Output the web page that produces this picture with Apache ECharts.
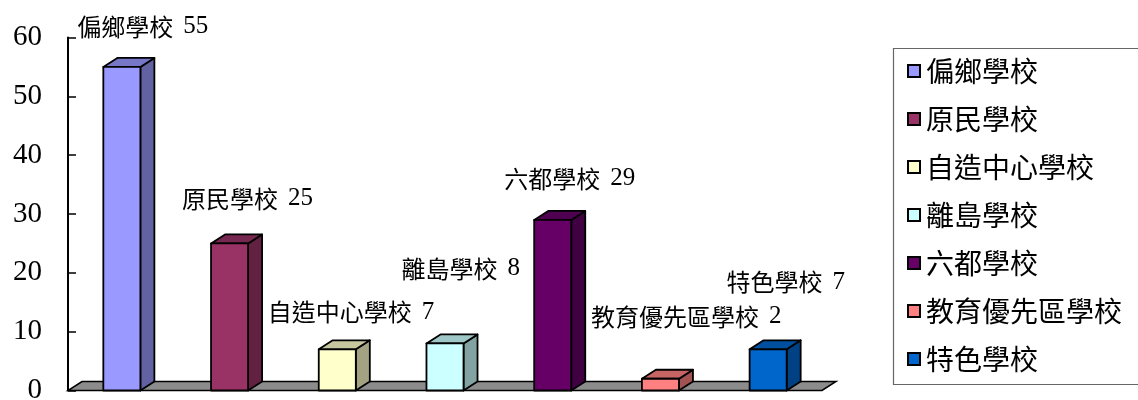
<!DOCTYPE html>
<html>
<head>
<meta charset="utf-8">
<script src="https://cdn.jsdelivr.net/npm/echarts@6/dist/echarts.min.js"></script>
<style>html,body{margin:0;padding:0;background:#fff}#c{width:1138px;height:400px}</style>
</head>
<body>
<div id="c"></div>
<script>
// ---- data ----
const categories = ['偏鄉學校', '原民學校', '自造中心學校', '離島學校', '六都學校', '教育優先區學校', '特色學校'];
const values = [55, 25, 7, 8, 29, 2, 7];
const yTicks = [0, 10, 20, 30, 40, 50, 60];

// ---- styles / layout ----
const frontColors = ['#9999FF', '#993366', '#FFFFCC', '#CCFFFF', '#660066', '#FF8080', '#0066CC'];
const labelOffsets = [[-26, -40], [-29, -45], [-51, -37], [-25, -75], [-30, -41], [-51, -62], [-23, -67]];
const DEPTH_X = 14, DEPTH_Y = -9;
const BAR_RATIO = 0.344;

function shade(hex, f) {
  const n = parseInt(hex.slice(1), 16);
  const r = Math.round(((n >> 16) & 255) * f), g = Math.round(((n >> 8) & 255) * f), b = Math.round((n & 255) * f);
  return 'rgb(' + r + ',' + g + ',' + b + ')';
}

const chart = echarts.init(document.getElementById('c'), null, { renderer: 'canvas' });

const floorSeries = {
  type: 'custom',
  name: '__floor',
  silent: true,
  z: 1,
  data: [[0, 0]],
  renderItem: function (params, api) {
    const cs = params.coordSys;
    const yb = api.coord([0, 0])[1];
    const x0 = cs.x, x1 = cs.x + cs.width;
    return {
      type: 'polygon',
      shape: { points: [[x0, yb], [x1, yb], [x1 + DEPTH_X, yb + DEPTH_Y], [x0 + DEPTH_X, yb + DEPTH_Y]] },
      style: { fill: '#8c8c8c', stroke: '#000', lineWidth: 1.5 }
    };
  }
};

const barSeries = categories.map(function (name, i) {
  return {
    type: 'custom',
    name: name,
    z: 2,
    itemStyle: { color: frontColors[i], borderColor: '#000', borderWidth: 2 },
    data: [[i, values[i]]],
    renderItem: function (params, api) {
      const top = api.coord([api.value(0), api.value(1)]);
      const base = api.coord([api.value(0), 0]);
      const band = api.size([1, 0])[0];
      const w = band * BAR_RATIO;
      const L = top[0] - w / 2, R = top[0] + w / 2, T = top[1], B = base[1];
      const front = frontColors[i];
      const sty = { stroke: '#000', lineWidth: 1.8, lineJoin: 'round' };
      const off = labelOffsets[i];
      return {
        type: 'group',
        children: [
          { type: 'polygon', shape: { points: [[R, T], [R + DEPTH_X, T + DEPTH_Y], [R + DEPTH_X, B + DEPTH_Y], [R, B]] },
            style: Object.assign({ fill: shade(front, 0.64) }, sty) },
          { type: 'polygon', shape: { points: [[L, T], [L + DEPTH_X, T + DEPTH_Y], [R + DEPTH_X, T + DEPTH_Y], [R, T]] },
            style: Object.assign({ fill: shade(front, 0.78) }, sty) },
          { type: 'rect', shape: { x: L, y: T, width: w, height: B - T },
            style: Object.assign({ fill: front }, sty) },
          { type: 'text', x: L + off[0], y: T + off[1],
            style: { text: '{n|' + categories[i] + '} {v|' + api.value(1) + '}', fill: '#000',
              font: '24px "Liberation Serif", "Noto Sans CJK TC", serif',
              rich: {
                n: { fontSize: 24, fontFamily: '"Noto Sans CJK TC", sans-serif', fill: '#000' },
                v: { fontSize: 25, fontFamily: '"Liberation Serif", serif', fill: '#000', padding: [0, 0, 0, 4] }
              },
              align: 'left', verticalAlign: 'middle' } }
        ]
      };
    }
  };
});

const option = {
  backgroundColor: '#fff',
  animation: false,
  grid: { left: 68, right: 316, top: 37.5, bottom: 9.5, containLabel: false, outerBoundsMode: 'none' },
  xAxis: {
    type: 'category',
    data: categories,
    boundaryGap: true,
    axisLine: { show: false },
    axisTick: { show: false },
    axisLabel: { show: false },
    splitLine: { show: false }
  },
  yAxis: {
    type: 'value',
    min: yTicks[0],
    max: yTicks[yTicks.length - 1],
    interval: yTicks[1] - yTicks[0],
    axisLine: { show: true, lineStyle: { color: '#000', width: 2 } },
    axisTick: { show: true, inside: true, length: 8, lineStyle: { color: '#000', width: 1.5 } },
    axisLabel: { color: '#000', fontFamily: '"Liberation Serif", serif', fontSize: 29, margin: 26 },
    splitLine: { show: false }
  },
  legend: {
    orient: 'vertical',
    left: 907,
    top: 57,
    padding: 0,
    itemGap: 20,
    itemWidth: 12,
    itemHeight: 12,
    icon: 'rect',
    data: categories.map(function (c, i) {
      return { name: c, icon: 'rect', itemStyle: { color: frontColors[i], borderColor: '#000', borderWidth: 2 } };
    }),
    textStyle: { color: '#000', fontSize: 28, lineHeight: 28, fontFamily: '"Noto Sans CJK TC", sans-serif', padding: [0, 0, 0, 1] },
    selectedMode: false
  },
  graphic: [{
    type: 'rect',
    left: 891, top: 46,
    shape: { width: 260, height: 336 },
    style: { fill: 'none', stroke: '#666', lineWidth: 1.2 },
    silent: true
  }],
  series: [floorSeries].concat(barSeries)
};

chart.setOption(option);
</script>
</body>
</html>
